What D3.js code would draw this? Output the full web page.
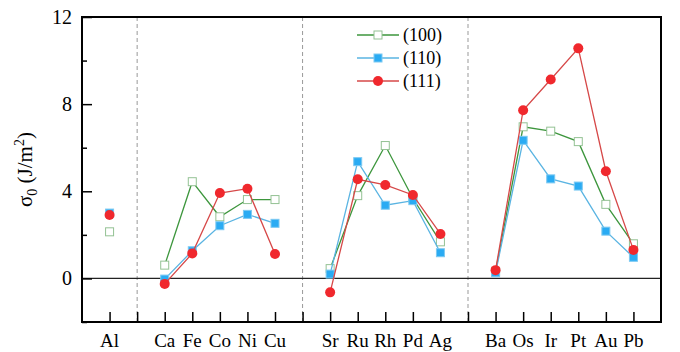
<!DOCTYPE html>
<html>
<head>
<meta charset="utf-8">
<script src="https://cdn.jsdelivr.net/npm/d3@7"></script>
<style>
  body { margin: 0; background: #fff; }
  text { font-family: "Liberation Serif", "DejaVu Serif", serif; }
</style>
</head>
<body>
<div id="chart"></div>
<script>
// "" marks a group divider slot (dashed line, no data)
var categories = ["Al", "", "Ca", "Fe", "Co", "Ni", "Cu", "", "Sr", "Ru", "Rh", "Pd", "Ag", "", "Ba", "Os", "Ir", "Pt", "Au", "Pb"];
var s100 = [2.14, null, 0.61, 4.44, 2.83, 3.62, 3.62, null, 0.45, 3.8, 6.1, 3.68, 1.68, null, 0.32, 6.96, 6.76, 6.28, 3.4, 1.59];
var s110 = [3.0, null, -0.03, 1.27, 2.42, 2.94, 2.53, null, 0.2, 5.36, 3.36, 3.57, 1.18, null, 0.26, 6.34, 4.57, 4.24, 2.17, 0.97];
var s111 = [2.91, null, -0.25, 1.15, 3.92, 4.12, 1.12, null, -0.64, 4.55, 4.29, 3.83, 2.04, null, 0.38, 7.72, 9.13, 10.56, 4.92, 1.31];
var seriesNames = ["(100)", "(110)", "(111)"];
var yTicks = [0, 4, 8, 12];

var svgWidth = 680;
var svgHeight = 352;
var margin = { top: 17, right: 19, bottom: 30, left: 82 };
var width = svgWidth - margin.left - margin.right;
var height = svgHeight - margin.top - margin.bottom;

var svg = d3.select("#chart").append("svg")
  .attr("width", svgWidth)
  .attr("height", svgHeight);

var chartGroup = svg.append("g")
  .attr("transform", `translate(${margin.left}, ${margin.top})`);

var xScale = d3.scaleLinear().domain([0, categories.length + 1]).range([0, width]);
var yScale = d3.scaleLinear().domain([-2, 12]).range([height, 0]);

// dividers
categories.forEach(function (c, i) {
  if (c === "") {
    chartGroup.append("line")
      .attr("x1", xScale(i + 1)).attr("x2", xScale(i + 1))
      .attr("y1", 0).attr("y2", height)
      .attr("stroke", "#999").attr("stroke-width", 1)
      .attr("stroke-dasharray", "4,3");
  }
});

// zero line
chartGroup.append("line")
  .attr("x1", 0).attr("x2", width)
  .attr("y1", yScale(0)).attr("y2", yScale(0))
  .attr("stroke", "#222").attr("stroke-width", 1.2);

// y axis: major + minor ticks pointing inward
var leftMajor = d3.axisRight(yScale).tickValues(yTicks).tickSize(10).tickFormat("");
var leftMinor = d3.axisRight(yScale).tickValues([-2, 2, 6, 10]).tickSize(5).tickFormat("");
chartGroup.append("g").call(leftMajor).call(g => g.select(".domain").remove())
  .selectAll("line").attr("stroke", "#000").attr("stroke-width", 1.5);
chartGroup.append("g").call(leftMinor).call(g => g.select(".domain").remove())
  .selectAll("line").attr("stroke", "#000").attr("stroke-width", 1.5);

chartGroup.selectAll(".ylab").data(yTicks).enter().append("text")
  .attr("x", -10).attr("y", d => yScale(d))
  .attr("dy", "0.35em")
  .attr("text-anchor", "end")
  .attr("font-size", "20px")
  .text(d => d);

// x axis ticks pointing up
var bottomAxis = d3.axisTop(xScale)
  .tickValues(d3.range(1, categories.length + 1))
  .tickSize(10).tickFormat("");
chartGroup.append("g").attr("transform", `translate(0, ${height})`)
  .call(bottomAxis).call(g => g.select(".domain").remove())
  .selectAll("line").attr("stroke", "#000").attr("stroke-width", 1.5);

chartGroup.selectAll(".xlab").data(categories).enter().append("text")
  .attr("x", (d, i) => xScale(i + 1))
  .attr("y", height + 25)
  .attr("text-anchor", "middle")
  .attr("font-size", "19px")
  .text(d => d);

// frame
chartGroup.append("rect")
  .attr("width", width).attr("height", height)
  .attr("fill", "none").attr("stroke", "#000").attr("stroke-width", 2);

// y label
var yLabel = svg.append("text")
  .attr("transform", `translate(32, ${margin.top + height / 2}) rotate(-90)`)
  .attr("text-anchor", "middle")
  .attr("font-size", "21px");
yLabel.append("tspan").text("σ");
yLabel.append("tspan").attr("font-size", "14px").attr("dy", "5").text("0");
yLabel.append("tspan").attr("dy", "-5").text(" (J/m");
yLabel.append("tspan").attr("font-size", "14px").attr("dy", "-8").text("2");
yLabel.append("tspan").attr("dy", "8").text(")");

var styles = [
  { line: "#3d963d", width: 1.3, shape: "square", fill: "#fff", stroke: "#94c294" },
  { line: "#5ab4e2", width: 1.3, shape: "square", fill: "#2aabf3", stroke: "#7cc9f2" },
  { line: "#d64848", width: 1.3, shape: "circle", fill: "#f0282d", stroke: "#f0282d" }
];
var allSeries = [s100, s110, s111];

var line = d3.line()
  .defined(d => d != null)
  .x((d, i) => xScale(i + 1))
  .y(d => yScale(d));

function drawMarker(g, st, x, y) {
  if (st.shape === "square") {
    g.append("rect")
      .attr("x", x - 4).attr("y", y - 4)
      .attr("width", 8).attr("height", 8)
      .attr("fill", st.fill).attr("stroke", st.stroke).attr("stroke-width", 1);
  } else {
    g.append("circle")
      .attr("cx", x).attr("cy", y).attr("r", 5)
      .attr("fill", st.fill);
  }
}

allSeries.forEach(function (vals, k) {
  var st = styles[k];
  chartGroup.append("path")
    .datum(vals)
    .attr("d", line)
    .attr("fill", "none")
    .attr("stroke", st.line)
    .attr("stroke-width", st.width);
  var mg = chartGroup.append("g");
  vals.forEach(function (v, i) {
    if (v != null) drawMarker(mg, st, xScale(i + 1), yScale(v));
  });
});

// legend
var legend = svg.append("g").attr("transform", "translate(357, 35)");
seriesNames.forEach(function (name, k) {
  var st = styles[k];
  var y = k * 23;
  legend.append("line")
    .attr("x1", 0).attr("x2", 42).attr("y1", y).attr("y2", y)
    .attr("stroke", st.line).attr("stroke-width", st.width);
  drawMarker(legend, st, 21, y);
  legend.append("text")
    .attr("x", 46).attr("y", y).attr("dy", "0.35em")
    .attr("font-size", "18px")
    .text(name);
});
</script>
</body>
</html>
